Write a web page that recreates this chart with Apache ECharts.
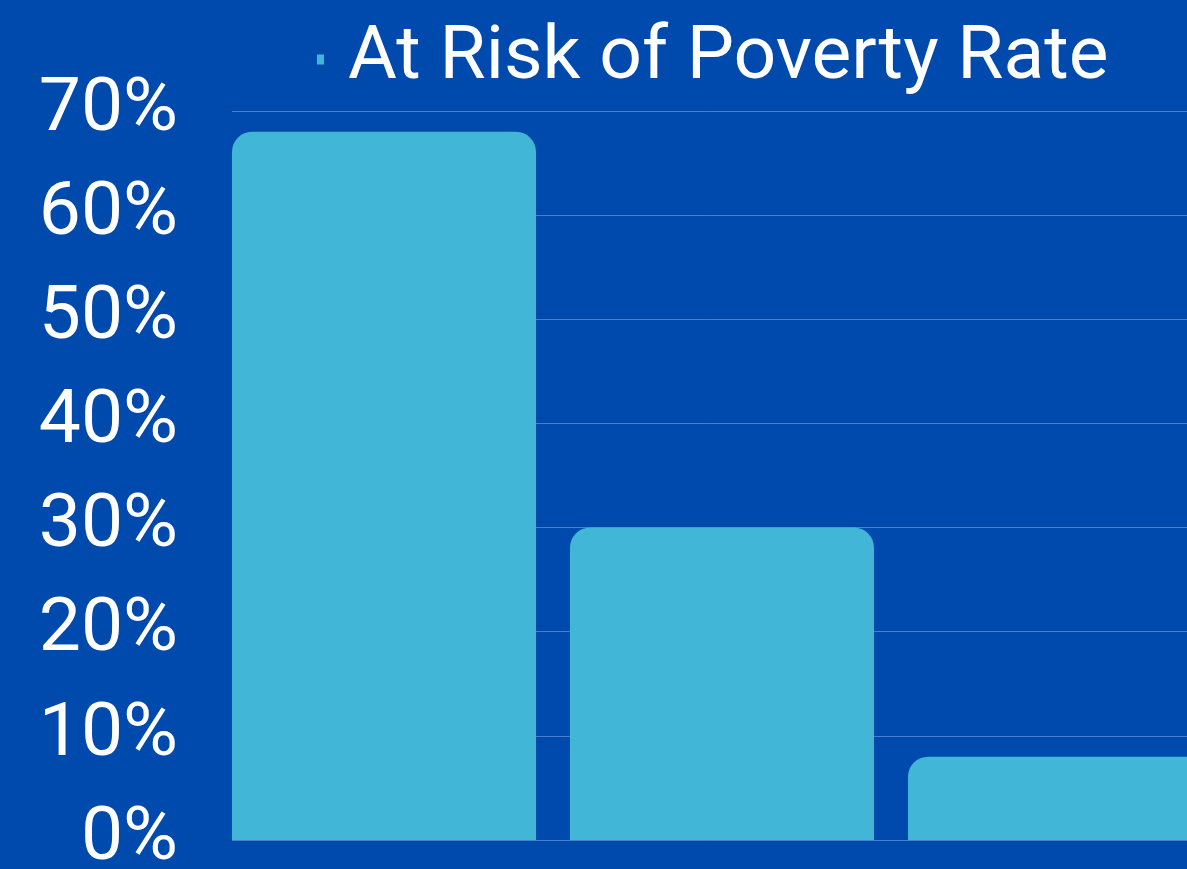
<!DOCTYPE html>
<html>
<head>
<meta charset="utf-8">
<script src="https://cdn.jsdelivr.net/npm/echarts@6/dist/echarts.min.js"></script>
<style>
  html, body { margin: 0; padding: 0; background: #004AAD; }
  #chart { width: 1187px; height: 869px; }
</style>
</head>
<body>
<div id="chart"></div>
<script>
// Chart data
const categories = ['Group A', 'Group B', 'Group C'];
const povertyRate = [68, 30, 8];
const seriesName = 'At Risk of Poverty Rate';
const yTicks = [0, 10, 20, 30, 40, 50, 60, 70];

const chart = echarts.init(document.getElementById('chart'));

const yMin = yTicks[0];
const yMax = yTicks[yTicks.length - 1];
const yStep = yTicks[1] - yTicks[0];

const option = {
  backgroundColor: '#004AAD',
  textStyle: { fontFamily: 'Roboto' },
  legend: {
    data: [seriesName],
    left: 312,
    top: 17,
    icon: 'rect',
    itemWidth: 7,
    itemHeight: 10,
    textStyle: {
      color: '#ffffff',
      fontSize: 75,
      fontFamily: 'Roboto',
      padding: [0, 0, 0, 19]
    }
  },
  grid: [
    // grid holding the horizontal guide lines and the value labels
    { left: 232, width: 1187 - 232, top: 111, height: 729, containLabel: false, outerBoundsMode: 'none' },
    // grid holding the bars
    { left: 215, width: 338 * categories.length, top: 111, height: 729, containLabel: false, outerBoundsMode: 'none' }
  ],
  xAxis: [
    { type: 'category', gridIndex: 0, data: categories, show: false },
    {
      type: 'category', gridIndex: 1, data: categories,
      axisLine: { show: false }, axisTick: { show: false }, axisLabel: { show: false }
    }
  ],
  yAxis: [
    {
      type: 'value', gridIndex: 0, min: yMin, max: yMax, interval: yStep,
      axisLine: { show: false }, axisTick: { show: false },
      splitLine: { show: true, lineStyle: { color: 'rgba(140,170,230,0.55)', width: 1 } },
      axisLabel: {
        color: '#ffffff', fontSize: 75, fontFamily: 'Roboto',
        margin: 54,
        formatter: v => v + '%'
      }
    },
    {
      type: 'value', gridIndex: 1, min: yMin, max: yMax, interval: yStep,
      show: false, splitLine: { show: false }
    }
  ],
  series: [
    {
      name: seriesName,
      type: 'bar',
      xAxisIndex: 1,
      yAxisIndex: 1,
      data: povertyRate,
      barWidth: 304,
      itemStyle: { color: '#41B6D6', borderRadius: [20, 20, 0, 0] },
      animation: false
    }
  ],
  animation: false
};

chart.setOption(option);
</script>
</body>
</html>
